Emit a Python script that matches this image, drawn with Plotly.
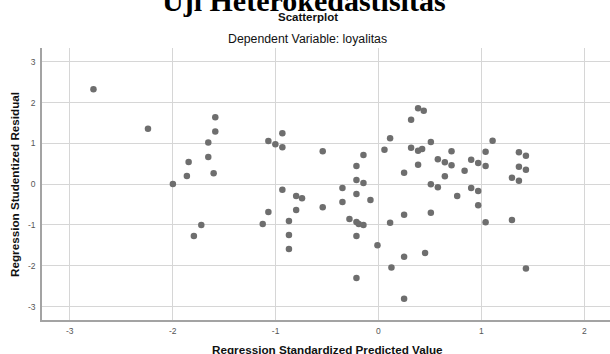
import plotly.graph_objects as go

# Regression Standardized Predicted Value
pred = [
    -2.77, -2.24, -1.586, -1.586, -1.654, -1.845, -1.654, -1.862, -1.602, -1.998, -1.722, -1.794,
    -0.934, -1.07, -1.002, -0.934, -0.542, -0.146, -0.214, -0.214, -0.146, -0.934, -0.35, -0.80,
    -0.743, -0.214, -0.35, -0.078, -0.542, -0.80, -1.07, -1.125, -0.87, -0.282, -0.214, -0.192,
    -0.146, -0.87, -0.214, -0.87, -0.01, -0.214, 0.113, 0.058, 0.113, 0.126,
    0.385, 0.44, 0.317, 0.509, 1.109, 0.317, 0.385, 0.424, 0.71, 1.041, 1.365, 1.433,
    0.577, 0.645, 0.901, 0.969, 0.385, 0.71, 1.041, 1.365, 1.433, 0.249, 0.837, 0.645,
    1.297, 1.365, 0.509, 0.577, 0.901, 0.969, 0.765, 0.969, 0.249, 0.509, 1.041, 1.297,
    0.249, 0.453, 1.433, 0.249,
]
# Regression Studentized Residual
resid = [
    2.33, 1.36, 1.64, 1.29, 1.02, 0.544, 0.667, 0.20, 0.267, 0.005, -1.0, -1.27,
    1.25, 1.06, 0.98, 0.904, 0.806, 0.716, 0.446, 0.103, 0.029, -0.135, -0.093, -0.29,
    -0.346, -0.24, -0.436, -0.387, -0.567, -0.632, -0.681, -0.975, -0.902, -0.853, -0.926, -0.975,
    -1.0, -1.245, -1.27, -1.588, -1.50, -2.30, 1.125, 0.846, -0.944, -2.04,
    1.86, 1.80, 1.58, 1.034, 1.066, 0.895, 0.821, 0.863, 0.806, 0.797, 0.782, 0.699,
    0.61, 0.537, 0.60, 0.52, 0.478, 0.463, 0.446, 0.429, 0.355, 0.282, 0.331, 0.194,
    0.159, 0.086, -0.002, -0.076, -0.093, -0.167, -0.289, -0.517, -0.747, -0.698, -0.934, -0.877,
    -1.777, -1.686, -2.07, -2.806,
]
x_ticks = [-3, -2, -1, 0, 1, 2]
y_ticks = [-3, -2, -1, 0, 1, 2, 3]

SANS = "Liberation Sans, Arial, sans-serif"
SERIF = "Liberation Serif, Times New Roman, serif"

fig = go.Figure()
fig.add_trace(go.Scatter(
    x=pred, y=resid, mode="markers",
    marker=dict(size=6.5, color="#6e6e6e", line=dict(width=0)),
    hoverinfo="skip", showlegend=False,
))

L, R, T, B = 42, 0, 48, 34
W, H = 610, 354
PW, PH = W - L - R, H - T - B

def px(xp):
    return (xp - L) / PW

def py(yp):
    return (H - B - yp) / PH

axis_common = dict(
    showgrid=True, gridcolor="#d6d6d6", gridwidth=1,
    zeroline=False, showline=True, linecolor="#a3a3a3", linewidth=1.5,
    ticks="", tickfont=dict(family=SANS, size=8.5, color="#555555"),
    mirror=False,
)

fig.update_layout(
    width=W, height=H,
    margin=dict(l=L, r=R, t=T, b=B, pad=0),
    paper_bgcolor="white", plot_bgcolor="white",
    xaxis=dict(range=[-3.27, 2.25], tickvals=x_ticks, ticktext=[str(v) for v in x_ticks],
               ticklabelstandoff=2, **axis_common),
    yaxis=dict(range=[-3.33, 3.34], tickvals=y_ticks, ticktext=[str(v) for v in y_ticks],
               ticklabelstandoff=3, **axis_common),
    annotations=[
        dict(text="<b>Uji Heterokedastisitas</b>", x=px(304), y=py(0.5), xref="paper", yref="paper",
             xanchor="center", yanchor="middle", showarrow=False,
             font=dict(family=SERIF, size=30, color="black")),
        dict(text="<b>Scatterplot</b>", x=px(307.5), y=py(16.7), xref="paper", yref="paper",
             xanchor="center", yanchor="middle", showarrow=False,
             font=dict(family=SANS, size=11.5, color="#111111")),
        dict(text="Dependent Variable: loyalitas", x=px(307.5), y=py(39), xref="paper", yref="paper",
             xanchor="center", yanchor="middle", showarrow=False,
             font=dict(family=SANS, size=12.3, color="#111111")),
        dict(text="<b>Regression Studentized Residual</b>", x=px(14), y=py(185), xref="paper", yref="paper",
             xanchor="center", yanchor="middle", textangle=-90, showarrow=False,
             font=dict(family=SANS, size=11.7, color="#111111")),
        dict(text="<b>Regression Standardized Predicted Value</b>", x=px(327), y=py(349), xref="paper", yref="paper",
             xanchor="center", yanchor="middle", showarrow=False,
             font=dict(family=SANS, size=11.7, color="#111111")),
    ],
)

fig.write_html("out.html", config={"displayModeBar": False},
               post_script="document.body.style.margin='0px';document.body.style.overflow='hidden';")
